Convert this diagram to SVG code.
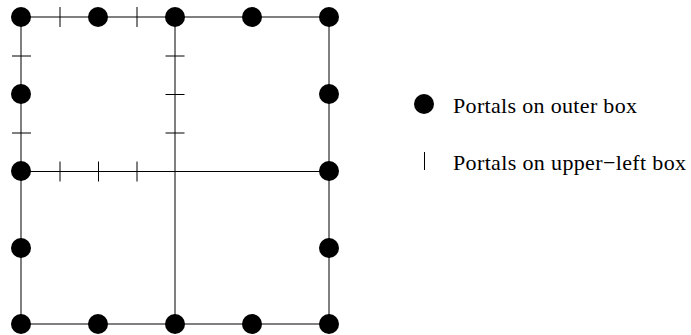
<svg xmlns="http://www.w3.org/2000/svg" width="691" height="335" viewBox="0 0 691 335">
<style>
.ln{stroke:#000;stroke-width:1;fill:none}
.tk{stroke:#000;stroke-width:1;fill:none}
.dot{fill:#000}
</style>
<defs>
<circle id="p" r="10" class="dot"/>
</defs>
<g id="connectors">
<line class="ln" x1="21" y1="17" x2="329" y2="17"/>
<line class="ln" x1="21" y1="324" x2="329" y2="324"/>
<line class="ln" x1="21" y1="17" x2="21" y2="324"/>
<line class="ln" x1="329" y1="17" x2="329" y2="324"/>
<line class="ln" x1="175" y1="17" x2="175" y2="324"/>
<line class="ln" x1="21" y1="171.5" x2="329" y2="171.5"/>
</g>
<g id="upper-left-portals">
<line class="tk" x1="60" y1="7" x2="60" y2="27"/>
<line class="tk" x1="137" y1="7" x2="137" y2="27"/>
<line class="tk" x1="60" y1="161.5" x2="60" y2="181.5"/>
<line class="tk" x1="98.5" y1="161.5" x2="98.5" y2="181.5"/>
<line class="tk" x1="137" y1="161.5" x2="137" y2="181.5"/>
<line class="tk" x1="12" y1="56" x2="31" y2="56"/>
<line class="tk" x1="12" y1="133" x2="31" y2="133"/>
<line class="tk" x1="165.5" y1="56" x2="184.5" y2="56"/>
<line class="tk" x1="165.5" y1="94.5" x2="184.5" y2="94.5"/>
<line class="tk" x1="165.5" y1="133" x2="184.5" y2="133"/>
</g>
<g id="outer-portals">
<use href="#p" x="21" y="17"/>
<use href="#p" x="98" y="17"/>
<use href="#p" x="175" y="17"/>
<use href="#p" x="252" y="17"/>
<use href="#p" x="329" y="17"/>
<use href="#p" x="21" y="324"/>
<use href="#p" x="98" y="324"/>
<use href="#p" x="175" y="324"/>
<use href="#p" x="252" y="324"/>
<use href="#p" x="329" y="324"/>
<use href="#p" x="21" y="94"/>
<use href="#p" x="21" y="171"/>
<use href="#p" x="21" y="248"/>
<use href="#p" x="329" y="94"/>
<use href="#p" x="329" y="171"/>
<use href="#p" x="329" y="248"/>
</g>
<g id="legend-outer">
<circle class="dot" cx="424" cy="104" r="10"/>
<text x="453" y="113" font-family="Liberation Serif, Times New Roman, serif" font-size="22" fill="#000" textLength="184">Portals on outer box</text>
</g>
<g id="legend-upper-left">
<line class="tk" x1="424.5" y1="152" x2="424.5" y2="170"/>
<text x="453" y="170" font-family="Liberation Serif, Times New Roman, serif" font-size="22" fill="#000" textLength="233">Portals on upper−left box</text>
</g>
</svg>
